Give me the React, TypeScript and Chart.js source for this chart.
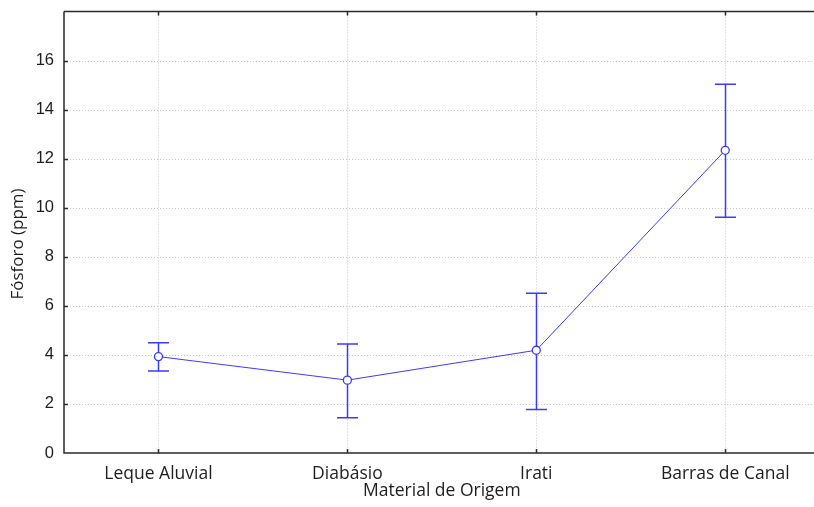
import { useEffect, useRef } from 'react';
import { Chart, registerables } from 'chart.js';

Chart.register(...registerables);

const categories = ['Leque Aluvial', 'Diabásio', 'Irati', 'Barras de Canal'];
const means = [3.93, 2.97, 4.19, 12.34];
const lowerBounds = [3.34, 1.44, 1.77, 9.61];
const upperBounds = [4.49, 4.44, 6.51, 15.03];
const yTickValues = [0, 2, 4, 6, 8, 10, 12, 14, 16];
const yTickLabels = ['0', '2', '4', '6', '8', '10', '12', '14', '16'];
const yMax = 18;
const xTitle = 'Material de Origem';
const yTitle = 'Fósforo (ppm)';

const BLUE = '#3a3aff';
const AXIS = '#2a2a2a';
const TEXT = '#1e1e1e';

const decorPlugin = {
  id: 'decor',
  beforeDatasetsDraw(chart: any) {
    const { ctx, chartArea: a, scales } = chart;
    const x = scales.x;
    const y = scales.y;
    ctx.save();
    ctx.strokeStyle = '#c6c6c6';
    ctx.lineWidth = 1;
    ctx.setLineDash([1, 2]);
    yTickValues.forEach((v) => {
      if (v === 0) return;
      const py = Math.round(y.getPixelForValue(v)) + 0.5;
      ctx.beginPath();
      ctx.moveTo(a.left, py);
      ctx.lineTo(a.right, py);
      ctx.stroke();
    });
    categories.forEach((_, i) => {
      const px = Math.round(x.getPixelForValue(i)) + 0.5;
      ctx.beginPath();
      ctx.moveTo(px, a.top);
      ctx.lineTo(px, a.bottom);
      ctx.stroke();
    });
    ctx.setLineDash([]);
    ctx.strokeStyle = BLUE;
    ctx.lineWidth = 1.5;
    categories.forEach((_, i) => {
      const px = Math.round(x.getPixelForValue(i)) + 0.5;
      const pl = y.getPixelForValue(lowerBounds[i]);
      const pu = y.getPixelForValue(upperBounds[i]);
      ctx.beginPath();
      ctx.moveTo(px, pl);
      ctx.lineTo(px, pu);
      ctx.moveTo(px - 10.5, pl);
      ctx.lineTo(px + 10.5, pl);
      ctx.moveTo(px - 10.5, pu);
      ctx.lineTo(px + 10.5, pu);
      ctx.stroke();
    });
    ctx.restore();
  },
  afterDraw(chart: any) {
    const { ctx, chartArea: a, scales } = chart;
    const x = scales.x;
    const y = scales.y;
    ctx.save();
    ctx.strokeStyle = AXIS;
    ctx.lineWidth = 1.5;
    ctx.beginPath();
    ctx.moveTo(a.left, a.top);
    ctx.lineTo(a.right + 10, a.top);
    ctx.moveTo(a.left, a.top);
    ctx.lineTo(a.left, a.bottom);
    ctx.lineTo(a.right + 10, a.bottom);
    ctx.stroke();
    yTickValues.forEach((v) => {
      if (v === 0) return;
      const py = Math.round(y.getPixelForValue(v)) + 0.5;
      ctx.beginPath();
      ctx.moveTo(a.left, py);
      ctx.lineTo(a.left + 4, py);
      ctx.stroke();
    });
    categories.forEach((_, i) => {
      const px = Math.round(x.getPixelForValue(i)) + 0.5;
      ctx.beginPath();
      ctx.moveTo(px, a.top);
      ctx.lineTo(px, a.top + 4);
      ctx.moveTo(px, a.bottom);
      ctx.lineTo(px, a.bottom - 4);
      ctx.stroke();
    });
    // y-axis title
    ctx.translate(18, 244);
    ctx.rotate(-Math.PI / 2);
    ctx.fillStyle = TEXT;
    ctx.font = '17px "Open Sans", sans-serif';
    ctx.textAlign = 'center';
    ctx.textBaseline = 'middle';
    ctx.fillText(yTitle, 0, 0);
    ctx.restore();
  },
};

export default function App() {
  const ref = useRef<HTMLCanvasElement | null>(null);

  useEffect(() => {
    document.body.style.margin = '0';
    const canvas = ref.current;
    if (!canvas) return;
    const chart = new Chart(canvas, {
      type: 'line',
      data: {
        labels: categories,
        datasets: [
          {
            data: means,
            borderColor: BLUE,
            borderWidth: 1,
            backgroundColor: '#ffffff',
            pointBackgroundColor: '#ffffff',
            pointBorderColor: BLUE,
            pointBorderWidth: 1.3,
            pointRadius: 4,
            tension: 0,
          },
        ],
      },
      options: {
        responsive: false,
        animation: false,
        events: [],
        layout: { padding: { top: 11.5, right: 2, left: 0, bottom: 0 } },
        plugins: { legend: { display: false }, tooltip: { enabled: false } },
        scales: {
          x: {
            type: 'category',
            offset: true,
            grid: { display: false, drawTicks: false },
            border: { display: false },
            ticks: {
              padding: 11,
              color: TEXT,
              font: { family: '"Open Sans", sans-serif', size: 17.5 },
              maxRotation: 0,
              autoSkip: false,
            },
            title: {
              display: true,
              text: xTitle,
              color: TEXT,
              font: { family: '"Open Sans", sans-serif', size: 17.5 },
              padding: { top: 0, bottom: 5 },
            },
            afterFit: (s: any) => {
              s.height = 54;
              s.paddingLeft = 0;
              s.paddingRight = 0;
            },
          },
          y: {
            type: 'linear',
            min: 0,
            max: yMax,
            grid: { display: false, drawTicks: false },
            border: { display: false },
            afterBuildTicks: (s: any) => {
              s.ticks = yTickValues.map((v) => ({ value: v }));
            },
            ticks: {
              padding: 10,
              color: TEXT,
              font: { family: '"Liberation Sans", Arial, sans-serif', size: 16.5 },
              callback: (v: any) => {
                const idx = yTickValues.indexOf(Number(v));
                return idx >= 0 ? yTickLabels[idx] : '';
              },
            },
            title: { display: false },
            afterFit: (s: any) => {
              s.width = 64;
              s.paddingTop = 0;
              s.paddingBottom = 0;
            },
          },
        },
      },
      plugins: [decorPlugin],
    });
    return () => chart.destroy();
  }, []);

  return (
    <div style={{ width: 814, height: 507, overflow: 'hidden', background: '#fff' }}>
      <canvas ref={ref} width={825} height={507} style={{ display: 'block' }} />
    </div>
  );
}
